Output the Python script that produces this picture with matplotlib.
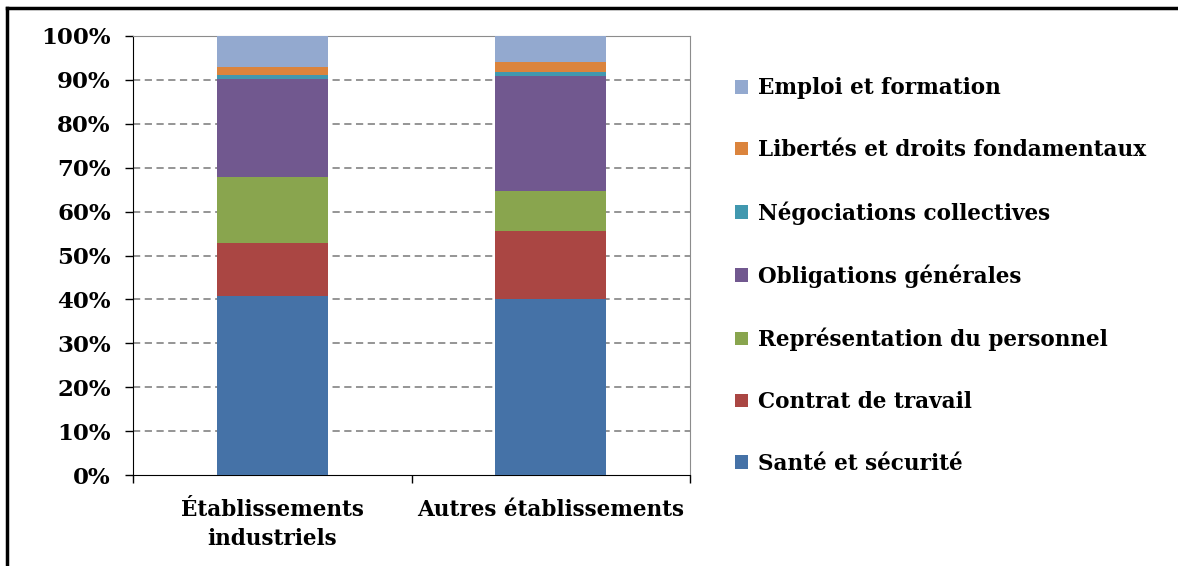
import numpy as np
import matplotlib
matplotlib.use("Agg")
import matplotlib.pyplot as plt
from matplotlib.lines import Line2D
from matplotlib.patches import Patch

# categories and shares (%)
categories = ["Établissements\nindustriels", "Autres établissements"]
themes = ["Santé et sécurité", "Contrat de travail", "Représentation du personnel",
          "Obligations générales", "Négociations collectives",
          "Libertés et droits fondamentaux", "Emploi et formation"]
sante = [40.8, 40.2]
contrat = [12.0, 15.3]
representation = [15.1, 9.1]
obligations = [22.2, 26.4]
negociations = [1.0, 0.9]
libertes = [1.9, 2.1]
emploi = [6.9, 6.1]
colors = ["#4572A7", "#AA4643", "#89A54E", "#71588F", "#4198AF", "#DB843D", "#93A9CF"]

series = [sante, contrat, representation, obligations, negociations, libertes, emploi]

plt.rcParams['font.family'] = ['DejaVu Serif']
plt.rcParams['font.weight'] = 'bold'
fs = 15.5

fig = plt.figure(figsize=(11.78, 5.66), dpi=100)
ax = fig.add_axes([133/1178, 1-475/566, (690-133)/1178, (475-36)/566])

x = np.arange(len(categories))
bottom = np.zeros(len(categories))
for vals, col, name in zip(series, colors, themes):
    ax.bar(x, vals, 0.4, bottom=bottom, color=col, label=name, zorder=3)
    bottom += np.array(vals)

ax.set_xlim(-0.5, 1.5)
ax.set_ylim(0, 100)
ax.set_yticks(np.arange(0, 101, 10))
ax.set_yticklabels([f"{v}%" for v in range(0, 101, 10)], fontsize=16.5, fontweight='bold')
for v in range(10, 100, 10):
    ax.axhline(v, color='#8c8c8c', linestyle=(0, (4, 2.5)), linewidth=1.3, zorder=1)

ax.set_xticks([-0.5, 0.5, 1.5])
ax.set_xticklabels([])
ax.tick_params(axis='x', length=6, width=1, direction='out')
ax.tick_params(axis='y', length=6, width=1, direction='out', pad=10)
for xi, lab in zip(x, categories):
    ax.text(xi, -5.5, lab, ha='center', va='top', fontsize=fs, fontweight='bold',
            linespacing=1.4, transform=ax.transData, clip_on=False)

ax.spines['left'].set_color('black')
ax.spines['bottom'].set_color('black')
ax.spines['top'].set_color('#8c8c8c')
ax.spines['right'].set_color('#8c8c8c')

handles = [Patch(facecolor=c, label=t) for c, t in zip(colors, themes)][::-1]
fig.legend(handles=handles, loc='upper left', bbox_to_anchor=(716/1178, 1-58/566),
           frameon=False, handlelength=0.6, handleheight=0.6,
           handletextpad=0.45, labelspacing=1.85, prop={'weight': 'bold', 'size': fs})

# outer frame of the chart box
fig.add_artist(Line2D([7/1178, 7/1178], [0, 1-8/566], color='black', linewidth=2.5))
fig.add_artist(Line2D([7/1178, 1], [1-8/566, 1-8/566], color='black', linewidth=2.5))

fig.savefig("out.png", dpi=100)
